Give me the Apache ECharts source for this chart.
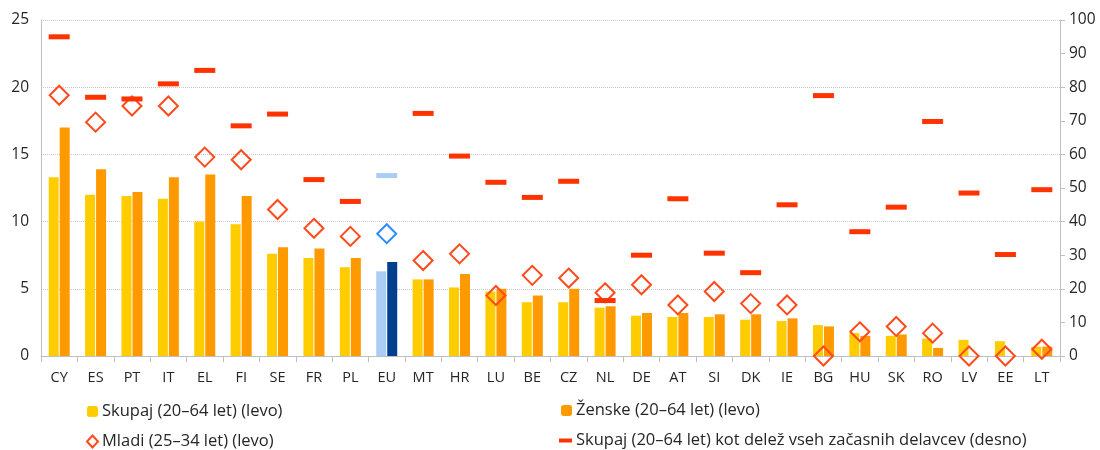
<!DOCTYPE html>
<html>
<head>
<meta charset="utf-8">
<script src="https://cdn.jsdelivr.net/npm/echarts@6/dist/echarts.min.js"></script>
<style>html,body{margin:0;padding:0;background:#fff;}#c{width:1100px;height:450px;}</style>
</head>
<body>
<div id="c"></div>
<script>
const categories = ['CY','ES','PT','IT','EL','FI','SE','FR','PL','EU','MT','HR','LU','BE','CZ','NL','DE','AT','SI','DK','IE','BG','HU','SK','RO','LV','EE','LT'];
const skupaj = [13.3,12.0,11.9,11.7,10.0,9.8,7.6,7.3,6.6,6.3,5.7,5.1,4.8,4.0,4.0,3.6,3.0,2.9,2.9,2.7,2.6,2.3,1.7,1.5,1.3,1.2,1.1,0.7];
const zenske = [17.0,13.9,12.2,13.3,13.5,11.9,8.1,8.0,7.3,7.0,5.7,6.1,5.0,4.5,5.0,3.7,3.2,3.2,3.1,3.1,2.8,2.2,1.5,1.6,0.6,0,0,0.7];
const mladi = [19.4,17.4,18.6,18.6,14.8,14.6,10.9,9.5,8.9,9.1,7.1,7.6,4.5,6.0,5.8,4.7,5.3,3.8,4.8,3.9,3.8,0,1.8,2.2,1.7,0,0,0.5];
const delez = [95.0,77.0,76.5,81.0,85.0,68.5,72.0,52.5,46.0,53.7,72.2,59.5,51.7,47.2,52.0,16.5,30.0,46.8,30.6,24.8,45.0,77.5,37.0,44.3,69.8,48.5,30.2,49.5];
const leftTicks = [0,5,10,15,20,25];
const rightTicks = [0,10,20,30,40,50,60,70,80,90,100];
const names = ['Skupaj (20–64 let) (levo)','Ženske (20–64 let) (levo)','Mladi (25–34 let) (levo)','Skupaj (20–64 let) kot delež vseh začasnih delavcev (desno)'];

const FONT = 'Open Sans';
const euIdx = categories.indexOf('EU');
function withEU(arr, euStyle){
  return arr.map((v,i)=> i===euIdx ? {value:v, itemStyle:euStyle} : v);
}
const C_SK='#ffcc00', C_ZE='#ff9900', C_ML='#ff4a1c', C_DE='#ff3300';

const chart = echarts.init(document.getElementById('c'), null, {renderer:'canvas'});
const legendBase = {
  orient:'horizontal', itemGap:4, selectedMode:false, padding:0,
  textStyle:{fontFamily:FONT, fontSize:16.5, color:'#262626', padding:[0,0,0,-1]}
};
chart.setOption({
  animation:false,
  backgroundColor:'#fff',
  grid:{left:41, right:40, top:20, bottom:94, containLabel:false},
  legend:[
    Object.assign({}, legendBase, {left:87, top:403, itemWidth:11, itemHeight:11, data:[names[0]]}),
    Object.assign({}, legendBase, {left:561, top:402, itemWidth:11, itemHeight:11, data:[names[1]]}),
    Object.assign({}, legendBase, {left:86, top:433, itemWidth:11, itemHeight:12, data:[names[2]]}),
    Object.assign({}, legendBase, {left:559, top:432, itemWidth:13, itemHeight:4, data:[names[3]]})
  ],
  xAxis:{
    type:'category', data:categories,
    axisLine:{lineStyle:{color:'#bfbfbf', width:1}},
    axisTick:{show:true, length:6, lineStyle:{color:'#bfbfbf'}},
    axisLabel:{fontFamily:FONT, fontSize:14.5, color:'#262626', margin:14, interval:0}
  },
  yAxis:[
    {type:'value', min:leftTicks[0], max:leftTicks[leftTicks.length-1], interval:5, position:'left',
     axisLine:{show:true, lineStyle:{color:'#bfbfbf'}},
     axisTick:{show:false},
     axisLabel:{fontFamily:FONT, fontSize:15.5, color:'#262626', margin:12},
     splitLine:{show:true, lineStyle:{color:'#c8c8c8', type:'dotted', width:1}}},
    {type:'value', min:rightTicks[0], max:rightTicks[rightTicks.length-1], interval:10, position:'right',
     axisLine:{show:true, lineStyle:{color:'#bfbfbf'}},
     axisTick:{show:true, length:5, lineStyle:{color:'#bfbfbf'}},
     axisLabel:{fontFamily:FONT, fontSize:15.5, color:'#262626', margin:9},
     splitLine:{show:false}}
  ],
  series:[
    {name:names[0], type:'bar', yAxisIndex:0, barWidth:10, barGap:'10%',
     itemStyle:{color:C_SK}, data:withEU(skupaj,{color:'#a9cdf5'})},
    {name:names[1], type:'bar', yAxisIndex:0, barWidth:10, barGap:'10%',
     itemStyle:{color:C_ZE}, data:withEU(zenske,{color:'#003f8f'})},
    {name:names[2], type:'scatter', yAxisIndex:0, symbol:'diamond', symbolSize:[19,19], z:5,
     itemStyle:{color:'rgba(255,255,255,0)', borderColor:C_ML, borderWidth:2, opacity:1},
     data:withEU(mladi,{color:'rgba(255,255,255,0)', borderColor:'#2b8cff', borderWidth:2})},
    {name:names[3], type:'scatter', yAxisIndex:1, symbol:'rect', symbolSize:[21,5], z:6,
     itemStyle:{color:C_DE, opacity:1},
     data:withEU(delez,{color:'#a9cdf5'})}
  ]
});
</script>
</body>
</html>
